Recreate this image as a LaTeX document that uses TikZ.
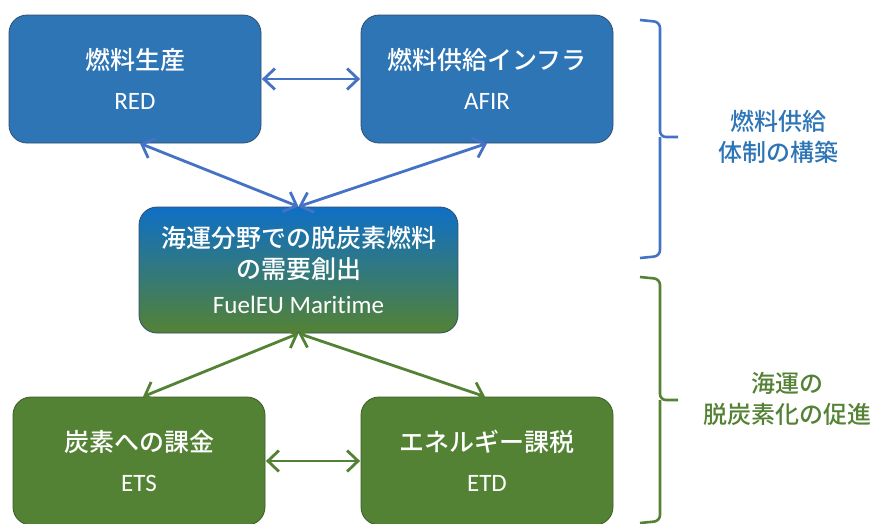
\documentclass[tikz,border=0pt]{standalone}
\usepackage{fontspec}
\setmainfont{Carlito}[Ligatures=NoCommon]
\newfontfamily\jp{Noto Sans CJK JP Medium}
\usetikzlibrary{arrows.meta}
\definecolor{boxblue}{HTML}{2E75B6}
\definecolor{boxgreen}{HTML}{548235}
\definecolor{arrowblue}{HTML}{4472C4}
\definecolor{edgenavy}{HTML}{2F4D6E}
\definecolor{topgrad}{HTML}{0F6FC6}
\tikzset{
  box/.style={rounded corners=18pt, draw=edgenavy, line width=0.8pt,
    minimum width=252pt, minimum height=128pt, align=center, text=white,
    inner sep=0pt, font=\jp\fontsize{25}{31}\selectfont},
  conn/.style={line width=2.8pt, {Straight Barb[length=11pt,width=21pt,line width=2.8pt]}-{Straight Barb[length=11pt,width=21pt,line width=2.8pt]}},
  brace/.style={line width=2.6pt, rounded corners=6pt},
  side/.style={align=center, font=\jp\fontsize{24}{31}\selectfont}
}
\newcommand{\lat}[1]{{\rmfamily\mdseries\fontsize{25}{30}\selectfont #1}}
\begin{document}
\begin{tikzpicture}[x=1pt,y=-1pt]
\useasboundingbox (0,0) rectangle (880,523);
% boxes
\node[box, fill=boxblue] (prod) at (135,79) {燃料生産\\[9pt]\lat{RED}};
\node[box, fill=boxblue] (infra) at (487,79) {燃料供給インフラ\\[9pt]\lat{AFIR}};
\node[box, minimum width=319pt, minimum height=126pt, top color=topgrad, bottom color=boxgreen, middle color=boxgreen!50!topgrad] (mid) at (298.5,270)
  {海運分野での脱炭素燃料\\の需要創出\\[4pt]\lat{FuelEU Maritime}};
\node[box, fill=boxgreen, draw=boxgreen!70!black] (ets) at (139,461) {炭素への課金\\[9pt]\lat{ETS}};
\node[box, fill=boxgreen, draw=boxgreen!70!black] (etd) at (487,461) {エネルギー課税\\[9pt]\lat{ETD}};
% connectors
\draw[conn, arrowblue, shorten <=0.5pt, shorten >=0.5pt] (prod.east) -- (infra.west);
\draw[conn, arrowblue] ([xshift=5pt]prod.south) -- (mid.north);
\draw[conn, arrowblue] (infra.south) -- (mid.north);
\draw[conn, boxgreen] (mid.south) -- ([xshift=4pt]ets.north);
\draw[conn, boxgreen] (mid.south) -- ([xshift=-2pt]etd.north);
\draw[conn, boxgreen, shorten <=0.5pt, shorten >=0.5pt] (ets.east) -- (etd.west);
% braces
\coordinate (b1t) at (640,20);
\coordinate (b1m) at (678,137);
\coordinate (b1b) at (640,258);
\draw[brace, arrowblue] (b1t) -- (660,22) -- (660,137) -- (b1m) (660,137) -- (660,256) -- (b1b);
\coordinate (b2t) at (640,277);
\coordinate (b2m) at (678,400);
\coordinate (b2b) at (640,523);
\draw[brace, boxgreen] (b2t) -- (660,279) -- (660,400) -- (b2m) (660,400) -- (660,521) -- (b2b);
% side labels
\node[side, text=boxblue] (lab1) at (778,137) {燃料供給\\体制の構築};
\node[side, text=boxgreen] (lab2) at (787,399) {海運の\\脱炭素化の促進};
\end{tikzpicture}
\end{document}
